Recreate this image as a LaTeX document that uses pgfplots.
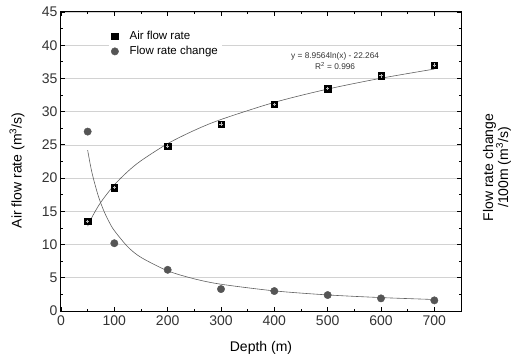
\documentclass[border=0pt]{standalone}
\usepackage{fontspec}
\setmainfont{Liberation Sans}
\usepackage{pgfplots}
\pgfplotsset{compat=1.18}
\definecolor{mkgray}{HTML}{555555}
\definecolor{trend}{HTML}{606060}
\begin{document}
\begin{tikzpicture}
\path[use as bounding box] (-61pt,-50pt) rectangle (457pt,311pt);
\begin{axis}[
  at={(0pt,0pt)}, anchor=south west,
  scale only axis, width=400pt, height=299pt,
  xmin=0, xmax=750, ymin=0, ymax=45,
  xtick={0,100,...,700}, minor xtick={50,150,...,750},
  ytick={0,5,...,45}, minor ytick={2.5,7.5,...,42.5},
  tick align=inside, major tick length=4pt, minor tick length=2.5pt,
  every tick/.style={black, line width=0.8pt},
  axis line style={line width=1pt},
  ymajorgrids, major grid style={gray!35, line width=0.6pt},
  /pgf/number format/assume math mode=true,
  tick label style={font=\fontsize{14}{15}\selectfont, text=black!80},
  xticklabel style={yshift=-1pt},
  yticklabel style={xshift=0pt},
  xlabel={Depth (m)},
  ylabel={Air flow rate (m\textsuperscript{3}/s)},
  label style={font=\fontsize{14}{16}\selectfont},
  xlabel style={at={(rel axis cs:0.5,-0.124)}, anchor=center},
  ylabel style={at={(rel axis cs:-0.11,0.47)}, anchor=center},
  legend style={at={(rel axis cs:0.12,0.95)}, anchor=north west, draw=none, fill=white,
    font=\fontsize{11.5}{13}\selectfont, row sep=1.5pt, inner sep=2pt,
    /tikz/every odd column/.append style={column sep=9pt}},
  legend cell align=left,
  clip=false,
]
% log trend line y = 8.9564 ln(x) - 22.264
\addplot[trend, line width=0.6pt, smooth, forget plot] coordinates {
(50,12.773) (60,14.406) (75,16.405) (100,18.982) (125,20.981) (150,22.614)
(200,25.190) (250,27.188) (300,28.821) (400,31.398) (500,33.397) (600,35.030) (700,36.410)};
% power trend line
\addplot[trend, line width=0.6pt, smooth, forget plot] coordinates {
(50,24.2) (55,22.0) (60,20.17) (70,17.29) (80,15.13) (90,13.44) (100,12.1)
(125,9.68) (150,8.07) (200,6.05) (250,4.84) (300,4.03) (400,3.03) (500,2.42) (600,2.02) (700,1.73)};
\addplot[only marks, mark=square*, mark size=3.3pt, mark options={draw=black, fill=black}] coordinates {
(50,13.5) (100,18.6) (200,24.8) (300,28.1) (400,31.1) (500,33.5) (600,35.4) (700,37.0)};
\addlegendentry{Air flow rate}
\addplot[only marks, mark=*, mark size=3.7pt, mark options={draw=mkgray, fill=mkgray}] coordinates {
(50,27.0) (100,10.2) (200,6.2) (300,3.3) (400,3.0) (500,2.4) (600,1.9) (700,1.6)};
\addlegendentry{Flow rate change}
\addplot[only marks, mark=+, mark size=1.8pt, mark options={draw=gray!55, line width=0.8pt}, forget plot] coordinates {
(50,13.5) (100,18.6) (200,24.8) (300,28.1) (400,31.1) (500,33.5) (600,35.4) (700,37.0)};
\node[font=\fontsize{8.3}{10.5}\selectfont, align=center, text=black!80] at (axis cs:514,37.6)
  {y = 8.9564ln(x) - 22.264\\R\textsuperscript{2} = 0.996};
\node[rotate=90, align=center, font=\fontsize{14}{15}\selectfont] at (rel axis cs:1.09,0.48)
  {Flow rate change\\/100m (m\textsuperscript{3}/s)};
\end{axis}
\end{tikzpicture}
\end{document}
